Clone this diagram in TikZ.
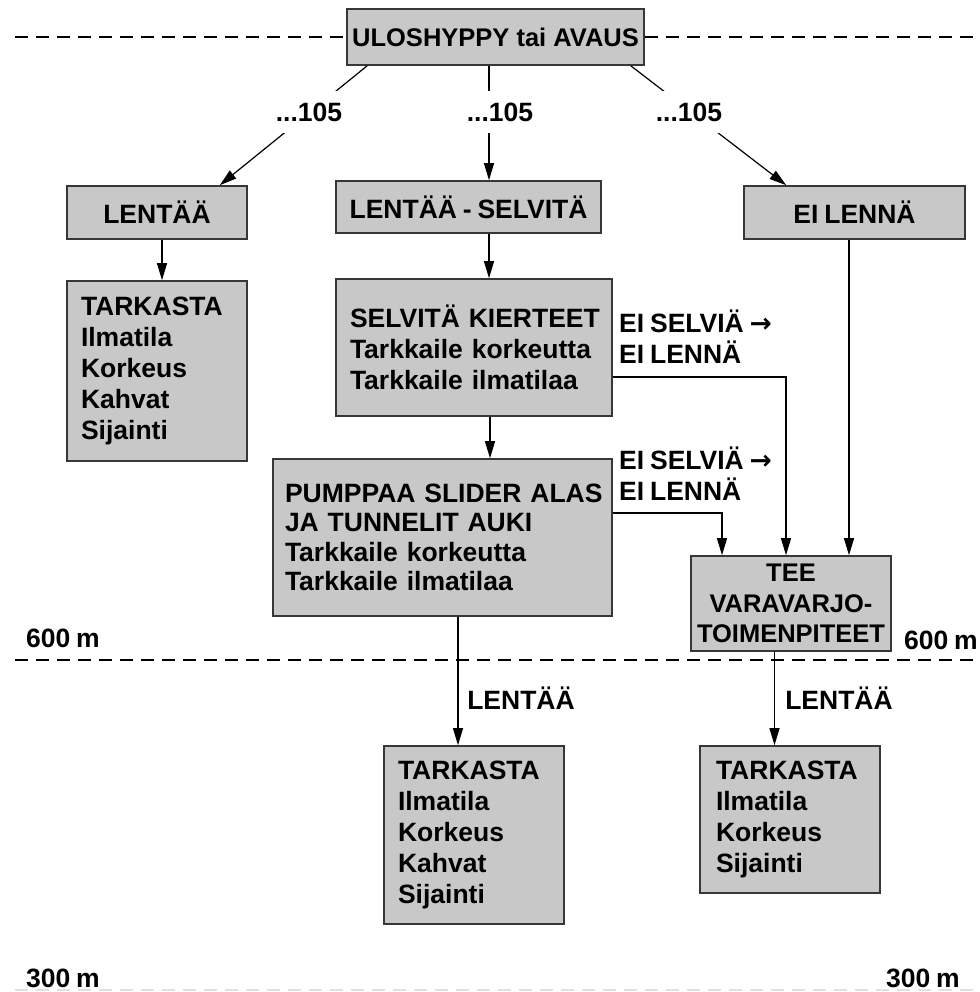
\documentclass[tikz,border=0pt]{standalone}
\usepackage{fontspec}
\setmainfont{Liberation Sans}
\newfontfamily\arrowfont{DejaVu Sans}
\usetikzlibrary{arrows.meta}
\definecolor{boxfill}{RGB}{200,200,200}
\definecolor{boxline}{RGB}{55,55,55}
\newcommand\mytight{\spaceskip=0.22em plus 0.1em\relax}
\newcommand\bodyfont{\fontsize{26.5}{31}\selectfont\bfseries\mytight}
\newcommand\oneline[1]{\mbox{#1}}
\begin{document}
\begin{tikzpicture}[x=1pt,y=-1pt,
  txt/.style={font=\bodyfont},
  box/.style={txt, draw=boxline, line width=1.6pt, fill=boxfill, inner sep=0pt, align=center},
  lbox/.style={box, align=left},
  arr/.style={draw=black, line width=1.2pt, -{Triangle[length=17pt,width=10pt]}},
  lbl/.style={txt, inner sep=0pt},
  toplbl/.style={txt, fill=white, inner xsep=4pt, inner ysep=12pt},
  dline/.style={line width=2.8pt, dash pattern=on 13pt off 8pt}]
\useasboundingbox (0,0) rectangle (979,992);

% altitude lines
\draw[dline] (15,37) -- (979,37);
\draw[dline] (15,660) -- (979,660);
\draw[line width=1.5pt, dash pattern=on 13pt off 8pt, black!12] (15,990) -- (979,990);

% boxes
\node[box, font=\fontsize{25.5}{30}\selectfont\bfseries, minimum width=297pt, minimum height=56pt] (top) at (495.5,37) {ULOSHYPPY tai AVAUS};
\node[box, minimum width=180pt, minimum height=53pt] (lentaa) at (157,212.5) {LENTÄÄ};
\node[box, minimum width=265pt, minimum height=52pt] (lsel) at (468.5,207) {LENTÄÄ - SELVITÄ};
\node[box, minimum width=221pt, minimum height=53pt] (eil) at (854.5,212.5) {EI LENNÄ};

\node[lbox, text width=152pt, inner xsep=14pt, minimum height=180pt] (tark1) at (157,371)
  {TARKASTA\\Ilmatila\\Korkeus\\Kahvat\\Sijainti};
\node[lbox, text width=248pt, inner xsep=14pt, minimum height=137pt] (selv) at (474,347.5)
  {\oneline{SELVITÄ KIERTEET}\\\oneline{Tarkkaile korkeutta}\\\oneline{Tarkkaile ilmatilaa}};
\node[lbox, font=\fontsize{26.5}{29.5}\selectfont\bfseries\mytight, text width=315pt, inner xsep=12pt, minimum height=157pt] (pump) at (442.5,537.5)
  {\oneline{PUMPPAA SLIDER ALAS}\\\oneline{JA TUNNELIT AUKI}\\\oneline{Tarkkaile korkeutta}\\\oneline{Tarkkaile ilmatilaa}};
\node[box, font=\fontsize{25.5}{30.5}\selectfont\bfseries, minimum width=200pt, minimum height=95pt] (tee) at (791,603.5)
  {TEE\\VARAVARJO-\\TOIMENPITEET};
\node[lbox, text width=152pt, inner xsep=14pt, minimum height=178pt] (tark2) at (474,835)
  {TARKASTA\\Ilmatila\\Korkeus\\Kahvat\\Sijainti};
\node[lbox, text width=148pt, inner xsep=16pt, minimum height=147pt] (tark3) at (790,819.5)
  {TARKASTA\\Ilmatila\\Korkeus\\Sijainti};

% connectors from the top box
\draw[arr] ([xshift=21pt]top.south west) -- ([xshift=-28pt]lentaa.north east);
\draw[arr] ([xshift=20.5pt]lsel.north |- top.south) -- ([xshift=20.5pt]lsel.north);
\draw[arr] ([xshift=-14pt]top.south east) -- ([xshift=43pt]eil.north west);
\node[toplbl] (l1) at (309,112) {...105};
\node[toplbl] (l2) at (500,112) {...105};
\node[toplbl] (l3) at (689,112) {...105};

% vertical flow
\draw[arr] ([xshift=5pt]lentaa.south) -- ([xshift=5pt]tark1.north);
\draw[arr] ([xshift=20.5pt]lsel.south) -- ([xshift=20.5pt]lsel.south |- selv.north);
\draw[arr] ([xshift=16pt]selv.south) -- ([xshift=16pt]selv.south |- pump.north);
\draw[arr] ([xshift=-5.5pt]eil.south) -- ([xshift=-5.5pt]eil.south |- tee.north);
\draw[arr] ([yshift=-29.5pt]selv.east) -| ([xshift=-5pt]tee.north);
\draw[arr] ([yshift=24.5pt]pump.east) -| ([xshift=-69pt]tee.north);
\draw[arr] ([xshift=15.5pt]pump.south) -- ([xshift=15.5pt]pump.south |- tark2.north);
\draw[arr] ([xshift=-16.5pt]tee.south) -- ([xshift=-16.5pt]tee.south |- tark3.north);

% side labels
\node[lbl, anchor=west, align=left] (es1) at (619,337) {EI SELVIÄ {\arrowfont\bfseries →}\\EI LENNÄ};
\node[lbl, anchor=west, align=left] (es2) at (619,473.5) {EI SELVIÄ {\arrowfont\bfseries →}\\EI LENNÄ};
\node[lbl] (fl1) at (521,698) {LENTÄÄ};
\node[lbl] (fl2) at (839,698) {LENTÄÄ};

% altitude labels
\node[lbl] (a1) at (63,638) {600 m};
\node[lbl] (a2) at (941,640) {600 m};
\node[lbl] (a3) at (63,978) {300 m};
\node[lbl] (a4) at (923,978) {300 m};
\end{tikzpicture}
\end{document}
